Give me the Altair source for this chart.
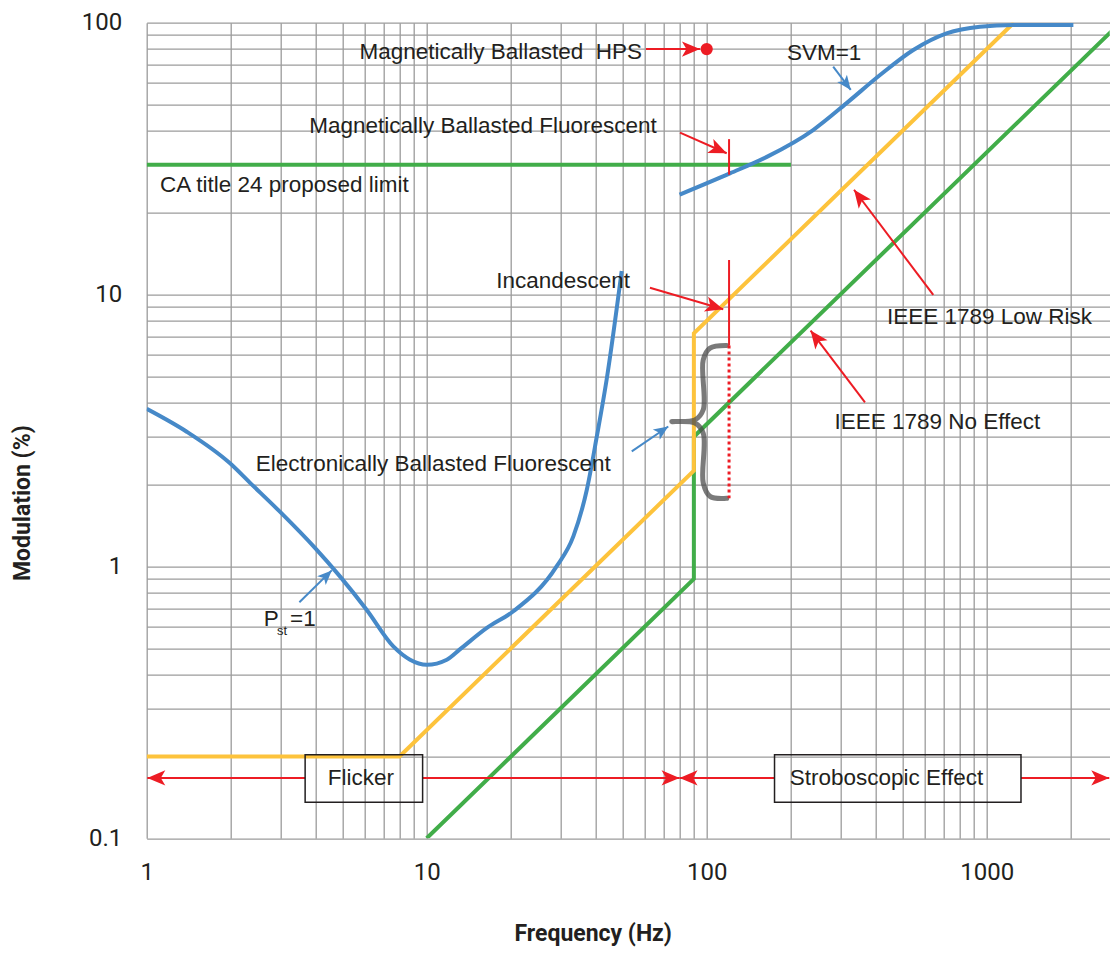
import math
import altair as alt
import pandas as pd

# ---------------- data ----------------
# Pst = 1 curve (Electronically Ballasted Fluorescent region)
pst_freq = [1, 1.39, 1.98, 2.34, 2.99, 3.99, 4.9, 6.1, 7.6, 8.72, 10, 11.8, 13.1, 16.4, 20.4, 29.1, 33.4, 37.3, 40.5, 43.9, 49.7]
pst_mod = [3.80, 3.13, 2.40, 2.03, 1.59, 1.17, 0.919, 0.693, 0.508, 0.454, 0.435, 0.454, 0.494, 0.594, 0.684, 1.0, 1.29, 1.91, 3.0, 4.85, 12.2]

# SVM = 1 curve
svm_freq = [80, 121, 164, 240, 316, 416, 547, 719, 946, 1245, 2040]
svm_mod = [23.3, 27.9, 32.1, 40.3, 50.6, 64.2, 79.4, 91.4, 96.7, 98.1, 98.1]

# IEEE 1789 Low Risk
low_freq = [1, 8, 90, 90, 1250]
low_mod = [0.2, 0.2, 2.25, 7.2, 100]

# IEEE 1789 No Effect
noeff_freq = [10, 90, 90, 3000]
noeff_mod = [0.1, 0.9, 3.0, 100]

# CA title 24 proposed limit
ca_freq = [1, 200]
ca_mod = [30, 30]

# Magnetically ballasted HPS point
hps_freq = [100]
hps_mod = [80]

# Curly brace (Electronically Ballasted Fluorescent range at 120 Hz)
brace_freq = [117.9, 102.8, 97.2, 97.2, 90.8, 75.0, 90.8, 97.2, 97.2, 102.8, 117.9]
brace_mod = [6.49, 6.35, 5.75, 3.77, 3.46, 3.41, 3.37, 3.09, 2.03, 1.81, 1.78]

# Red 120 Hz marker ticks
tick_freq = [120.2, 120.2]
tick_mod1 = [37.3, 13.4]
tick_mod2 = [27.6, 6.49]
dot_freq = [120.2]
dot_mod1 = [6.49]
dot_mod2 = [1.78]

# Annotation arrows (tail -> tip)
arrow_f1 = [60.7, 80.3, 62.7, 644.6, 367.6, 283, 3.51, 54.0, 3.68, 9.67, 174.7, 1326]
arrow_m1 = [80, 39.4, 10.6, 9.97, 4.01, 68.9, 0.738, 2.65, 0.1667, 0.1667, 0.1667, 0.1667]
arrow_f2 = [94.6, 117.9, 114.6, 335.9, 235, 327, 4.58, 72.9, 1.005, 80, 80, 2740]
arrow_m2 = [80, 33.1, 8.83, 24.3, 7.37, 56.6, 0.967, 3.27, 0.1667, 0.1667, 0.1667, 0.1667]
arrow_kind = ["red"] * 5 + ["blue"] * 3 + ["red"] * 4

# Boxes (Flicker, Stroboscopic Effect)
box_f1 = [3.68, 174.7]
box_f2 = [9.67, 1326]
box_m1 = [0.203, 0.203]
box_m2 = [0.1356, 0.1356]

# Labels (centered)
label_text = [
    "Magnetically Ballasted\u00a0 HPS",
    "SVM=1",
    "Magnetically Ballasted Fluorescent",
    "CA title 24 proposed limit",
    "Incandescent",
    "Electronically Ballasted Fluorescent",
    "IEEE 1789 Low Risk",
    "IEEE 1789 No Effect",
    "Flicker",
    "Stroboscopic Effect",
]
label_freq = [18.4, 262.8, 15.9, 3.10, 30.7, 10.56, 1023, 667, 5.82, 438.7]
label_mod = [78.3, 77.2, 41.7, 25.3, 11.2, 2.39, 8.28, 3.39, 0.1667, 0.1667]

# P_st = 1 label pieces (left aligned)
pst_lab_text = ["P", "=1"]
pst_lab_freq = [2.62, 3.25]
pst_lab_mod = [0.643, 0.643]
sub_text = ["st"]
sub_freq = [2.92]
sub_mod = [0.580]

x_ticks = [1, 2, 3, 4, 5, 6, 7, 8, 9, 10, 20, 30, 40, 50, 60, 70, 80, 90,
           100, 200, 300, 400, 500, 600, 700, 800, 900, 1000, 2000]
y_ticks = [0.1, 0.2, 0.3, 0.4, 0.5, 0.6, 0.7, 0.8, 0.9, 1, 2, 3, 4, 5, 6, 7, 8, 9,
           10, 20, 30, 40, 50, 60, 70, 80, 90, 100]

# ---------------- layout / style ----------------
W, H = 963, 815.6
XMIN, XMAX = 1, 2750
YMIN, YMAX = 0.1, 100
kx = W / math.log10(XMAX / XMIN)
ky = H / math.log10(YMAX / YMIN)

BLUE = "#4689c8"
YELLOW = "#fdc33c"
GREEN = "#41ad49"
RED = "#ed1c24"
TXT = "#231f20"
GRID = "#9b9b9b"
COLORS = {"red": RED, "blue": BLUE}
ANN_FONT = "Liberation Sans"
ANN_SIZE = 22.5

ARROW_PATH = "M0,0 L-2,-0.85 L-1.5,0 L-2,0.85 Z"


def angle(f1, m1, f2, m2):
    dx = (math.log10(f2) - math.log10(f1)) * kx
    dy = -(math.log10(m2) - math.log10(m1)) * ky
    return math.degrees(math.atan2(dy, dx)) % 360


xscale = alt.Scale(type="log", domain=[XMIN, XMAX], nice=False)
yscale = alt.Scale(type="log", domain=[YMIN, YMAX], nice=False)

xaxis = alt.Axis(
    values=x_ticks,
    labelExpr="datum.value == 1 ? '1' : datum.value == 10 ? '10' : datum.value == 100 ? '100' : datum.value == 1000 ? '1000' : ''",
    grid=True, gridColor=GRID, gridWidth=1.3, gridOpacity=1,
    ticks=False, tickSize=0, domain=False,
    labelFont="Roboto", labelFontSize=24, labelColor=TXT, labelPadding=34,
    labelBaseline="middle", labelFlush=False, labelOverlap=False,
    title="Frequency (Hz)", titleFont="Roboto", titleFontSize=23, titleFontWeight="bold",
    titleColor=TXT, titleX=446, titleY=95, titleAlign="center", titleBaseline="middle",
    titleAnchor="start",
)
yaxis = alt.Axis(
    values=y_ticks,
    labelExpr="datum.value == 0.1 ? '0.1' : datum.value == 1 ? '1' : datum.value == 10 ? '10' : datum.value == 100 ? '100' : ''",
    grid=True, gridColor=GRID, gridWidth=1.3, gridOpacity=1,
    ticks=False, tickSize=0, domain=False,
    labelFont="Roboto", labelFontSize=24, labelColor=TXT, labelPadding=25,
    labelBaseline="middle", labelFlush=False, labelOverlap=False, labelAlign="right",
    title="Modulation (%)", titleFont="Roboto", titleFontSize=23, titleFontWeight="bold",
    titleColor=TXT, titleX=-124, titleY=480, titleAngle=270, titleAlign="center",
    titleBaseline="middle", titleAnchor="start",
)


def X(field="f"):
    return alt.X(f"{field}:Q", scale=xscale, axis=xaxis)


def Y(field="m"):
    return alt.Y(f"{field}:Q", scale=yscale, axis=yaxis)


# ---------------- tables ----------------
def poly(name, fs, ms, color):
    return pd.DataFrame({"f": fs, "m": ms, "o": list(range(len(fs))), "s": name, "c": color})


straight = pd.concat([
    poly("ca", ca_freq, ca_mod, GREEN),
    poly("noeff", noeff_freq, noeff_mod, GREEN),
    poly("low", low_freq, low_mod, YELLOW),
])
curves = pd.concat([
    poly("pst", pst_freq, pst_mod, BLUE),
    poly("svm", svm_freq, svm_mod, BLUE),
])
brace = pd.DataFrame({"f": brace_freq, "m": brace_mod, "o": list(range(len(brace_freq)))})

ticks_df = pd.DataFrame({"f": tick_freq, "m": tick_mod1, "m2": tick_mod2})
dotted_df = pd.DataFrame({"f": dot_freq, "m": dot_mod1, "m2": dot_mod2})
hps_df = pd.DataFrame({"f": hps_freq, "m": hps_mod})

arrows = pd.DataFrame({
    "f": arrow_f1, "m": arrow_m1, "f2": arrow_f2, "m2": arrow_m2,
    "c": [COLORS[k] for k in arrow_kind],
    "sz": [324 if k == "red" else 210 for k in arrow_kind],
    "a": [angle(a, b, c, d) for a, b, c, d in zip(arrow_f1, arrow_m1, arrow_f2, arrow_m2)],
})
heads = arrows.drop(columns=["f", "m"]).rename(columns={"f2": "f", "m2": "m"})

boxes = pd.DataFrame({"f": box_f1, "f2": box_f2, "m": box_m1, "m2": box_m2})
labels = pd.DataFrame({"f": label_freq, "m": label_mod, "t": label_text})
pst_lab = pd.DataFrame({"f": pst_lab_freq, "m": pst_lab_mod, "t": pst_lab_text})
sub_lab = pd.DataFrame({"f": sub_freq, "m": sub_mod, "t": sub_text})

# ---------------- layers ----------------
l_straight = alt.Chart(straight).mark_line(strokeWidth=4, clip=True, strokeCap="butt").encode(
    x=X(), y=Y(), detail="s:N", order="o:Q", color=alt.Color("c:N", scale=None))
l_curves = alt.Chart(curves).mark_line(strokeWidth=4, clip=True, interpolate="monotone").encode(
    x=X(), y=Y(), detail="s:N", order="o:Q", color=alt.Color("c:N", scale=None))
l_brace = alt.Chart(brace).mark_line(strokeWidth=5, color="#4d4d4d", opacity=0.75,
                                      interpolate="catmull-rom", strokeCap="round").encode(
    x=X(), y=Y(), order="o:Q")
l_ticks = alt.Chart(ticks_df).mark_rule(color=RED, strokeWidth=2).encode(x=X(), y=Y(), y2="m2:Q")
l_dotted = alt.Chart(dotted_df).mark_rule(color=RED, strokeWidth=3, strokeDash=[3, 3]).encode(
    x=X(), y=Y(), y2="m2:Q")
l_shafts = alt.Chart(arrows).mark_rule(strokeWidth=2).encode(
    x=X(), y=Y(), x2="f2:Q", y2="m2:Q", color=alt.Color("c:N", scale=None))
l_heads = alt.Chart(heads).mark_point(shape=ARROW_PATH, filled=True, opacity=1, strokeWidth=0).encode(
    x=X(), y=Y(), color=alt.Color("c:N", scale=None), size=alt.Size("sz:Q", scale=None),
    angle=alt.Angle("a:Q", scale=None))
l_hps = alt.Chart(hps_df).mark_point(shape="circle", filled=True, opacity=1, size=150, color=RED).encode(
    x=X(), y=Y())
l_boxes = alt.Chart(boxes).mark_rect(fill="white", fillOpacity=0, stroke="#231f20", strokeWidth=1.5).encode(
    x=X(), x2="f2:Q", y=Y(), y2="m2:Q")
l_labels = alt.Chart(labels).mark_text(font=ANN_FONT, fontSize=ANN_SIZE, color=TXT,
                                       align="center", baseline="middle").encode(
    x=X(), y=Y(), text="t:N")
l_pst = alt.Chart(pst_lab).mark_text(font=ANN_FONT, fontSize=ANN_SIZE, color=TXT,
                                     align="left", baseline="middle").encode(x=X(), y=Y(), text="t:N")
l_sub = alt.Chart(sub_lab).mark_text(font=ANN_FONT, fontSize=13, color=TXT,
                                     align="left", baseline="middle").encode(x=X(), y=Y(), text="t:N")

chart = alt.layer(
    l_straight, l_curves, l_brace, l_ticks, l_dotted, l_shafts, l_heads, l_hps,
    l_boxes, l_labels, l_pst, l_sub,
).properties(
    width=W, height=H,
    padding={"left": 138.7, "top": 14.7, "right": 0, "bottom": 109.5},
    autosize=alt.AutoSizeParams(type="none"),
    background="white",
).configure_view(stroke=None)

chart.save("out.html", embed_options={"renderer": "svg", "actions": False})
